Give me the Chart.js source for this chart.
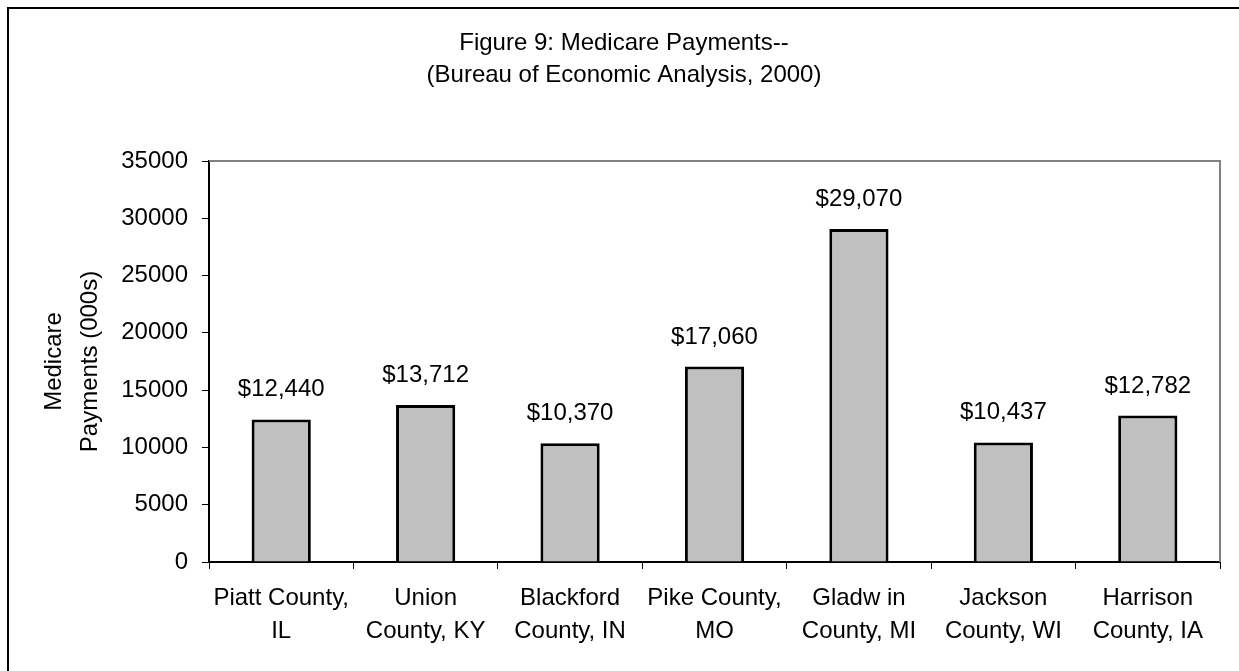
<!DOCTYPE html>
<html>
<head>
<meta charset="utf-8">
<script src="https://cdn.jsdelivr.net/npm/chart.js@4/dist/chart.umd.min.js"></script>
<style>
  html, body { margin: 0; padding: 0; background: #fff; }
  canvas { display: block; }
</style>
</head>
<body>
<canvas id="c" width="1239" height="671"></canvas>
<script>
const categories = [
  ["Piatt County,", "IL"],
  ["Union", "County, KY"],
  ["Blackford", "County, IN"],
  ["Pike County,", "MO"],
  ["Gladw in", "County, MI"],
  ["Jackson", "County, WI"],
  ["Harrison", "County, IA"]
];
const payments = [12440, 13712, 10370, 17060, 29070, 10437, 12782];
const valueLabels = ["$12,440", "$13,712", "$10,370", "$17,060", "$29,070", "$10,437", "$12,782"];
const titleLines = ["Figure 9: Medicare Payments--", "(Bureau of Economic Analysis, 2000)"];
const yTitleLines = ["Medicare", "Payments (000s)"];
const yMin = 0, yMax = 35000, yStep = 5000;

const FONT = "'Liberation Sans', Arial, sans-serif";
const FS = 24;

const framePlugin = {
  id: 'frame',
  beforeDraw(chart) {
    const ctx = chart.ctx;
    ctx.save();
    ctx.fillStyle = '#fff';
    ctx.fillRect(0, 0, chart.width, chart.height);
    ctx.restore();
  },
  afterDraw(chart) {
    const ctx = chart.ctx;
    const a = chart.chartArea;
    ctx.save();
    ctx.strokeStyle = '#808080';
    ctx.lineWidth = 2;
    ctx.beginPath();
    ctx.moveTo(a.left, a.top);
    ctx.lineTo(a.right, a.top);
    ctx.lineTo(a.right, a.bottom);
    ctx.stroke();
    ctx.fillStyle = '#000';
    ctx.fillRect(7, 7, chart.width, 2);
    ctx.fillRect(7, 7, 2, chart.height);
    const meta = chart.getDatasetMeta(0);
    ctx.fillStyle = '#000';
    ctx.font = FS + "px " + FONT;
    ctx.textAlign = 'center';
    ctx.textBaseline = 'alphabetic';
    meta.data.forEach((bar, i) => {
      ctx.fillText(valueLabels[i], bar.x, bar.y - 23);
    });
    ctx.restore();
  }
};

new Chart(document.getElementById('c'), {
  type: 'bar',
  data: {
    labels: categories,
    datasets: [{
      data: payments,
      backgroundColor: '#c0c0c0',
      borderColor: '#000',
      borderWidth: 3,
      categoryPercentage: 1,
      barPercentage: 0.41
    }]
  },
  options: {
    responsive: false,
    animation: false,
    events: [],
    layout: { padding: { left: 28, right: 19, top: 0, bottom: 0 } },
    plugins: {
      legend: { display: false },
      tooltip: { enabled: false },
      title: {
        display: true,
        text: titleLines,
        color: '#000',
        font: { family: FONT, size: FS, weight: 'normal', lineHeight: 32 / FS },
        padding: { top: 27, bottom: 70 }
      }
    },
    scales: {
      x: {
        grid: { display: true, drawOnChartArea: false, offset: true, tickLength: 7, color: '#000', lineWidth: 1 },
        border: { display: true, color: '#000', width: 2 },
        ticks: { color: '#000', padding: 12.5, maxRotation: 0, autoSkip: false,
                 font: { family: FONT, size: FS, lineHeight: 33 / FS } },
        afterFit(scale) { scale.height = 109; }
      },
      y: {
        min: yMin, max: yMax,
        grid: { display: true, drawOnChartArea: false, tickLength: 7, color: '#000', lineWidth: 1 },
        border: { display: true, color: '#000', width: 2 },
        ticks: { stepSize: yStep, color: '#000', padding: 14,
                 font: { family: FONT, size: FS },
                 callback: (v) => String(v) },
        title: {
          display: true, text: yTitleLines, color: '#000',
          font: { family: FONT, size: FS, lineHeight: 36 / FS },
          padding: { top: 8, bottom: 0 }
        },
        afterFit(scale) { scale.width = 181; }
      }
    }
  },
  plugins: [framePlugin]
});
</script>
</body>
</html>
